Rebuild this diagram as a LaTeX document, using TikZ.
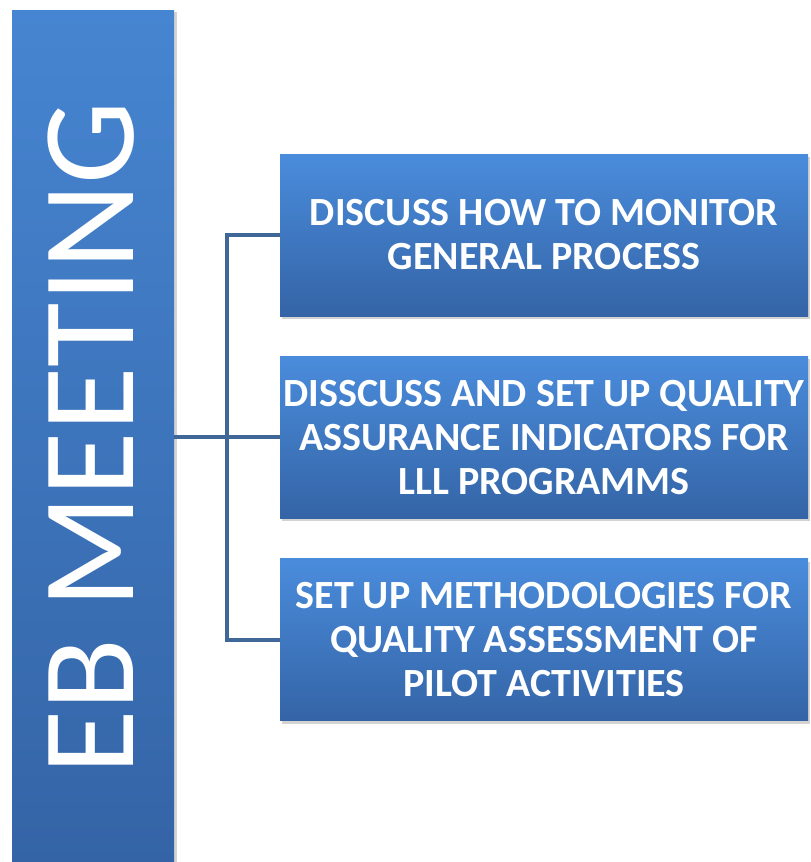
\documentclass[tikz,border=0pt]{standalone}
\usepackage{fontspec}
\setmainfont{Carlito}
\usepackage{tikz}
\usetikzlibrary{positioning}
\usetikzlibrary{shadows}
\definecolor{boxtop}{RGB}{74,140,220}
\definecolor{boxbot}{RGB}{52,100,166}
\definecolor{linkblue}{RGB}{63,104,152}

\begin{document}
\begin{tikzpicture}[x=1pt, y=-1pt,
        task/.style={rectangle, minimum width=528pt, minimum height=162pt, inner sep=0pt,
            top color=boxtop, bottom color=boxbot, text=white, align=center,
            font=\bfseries\fontsize{40}{44}\selectfont,
            drop shadow={shadow xshift=2pt, shadow yshift=-3pt, opacity=0.35}},
        meeting/.style={rectangle, minimum width=162pt, minimum height=856pt, inner sep=0pt,
            top color=boxtop!95!black, bottom color=boxbot, text=white,
            font=\fontsize{132}{140}\selectfont,
            drop shadow={shadow xshift=3pt, shadow yshift=-2pt, opacity=0.35}},
        link/.style={draw=linkblue, line width=4pt}]
        \useasboundingbox (0,0) rectangle (811,862);
        % nodes
        \node[meeting] (eb) at (93,438) {\rotatebox{90}{\raisebox{5pt}{EB MEETING}}};
        \node[task] (b1) at (544,235) {DISCUSS HOW TO MONITOR\\GENERAL PROCESS};
        \node[task, below=40pt of b1] (b2) {DISSCUSS AND SET UP QUALITY\\ASSURANCE INDICATORS FOR\\LLL PROGRAMMS};
        \node[task, below=40pt of b2] (b3) {SET UP METHODOLOGIES FOR\\QUALITY ASSESSMENT OF\\PILOT ACTIVITIES};
        \coordinate (fork) at (227,437);
        % connectors
        \draw[link] (eb.east |- b2.west) -- (b2.west);
        \draw[link] (b1.west) -| (fork) |- (b3.west);
    \end{tikzpicture}
\end{document}
